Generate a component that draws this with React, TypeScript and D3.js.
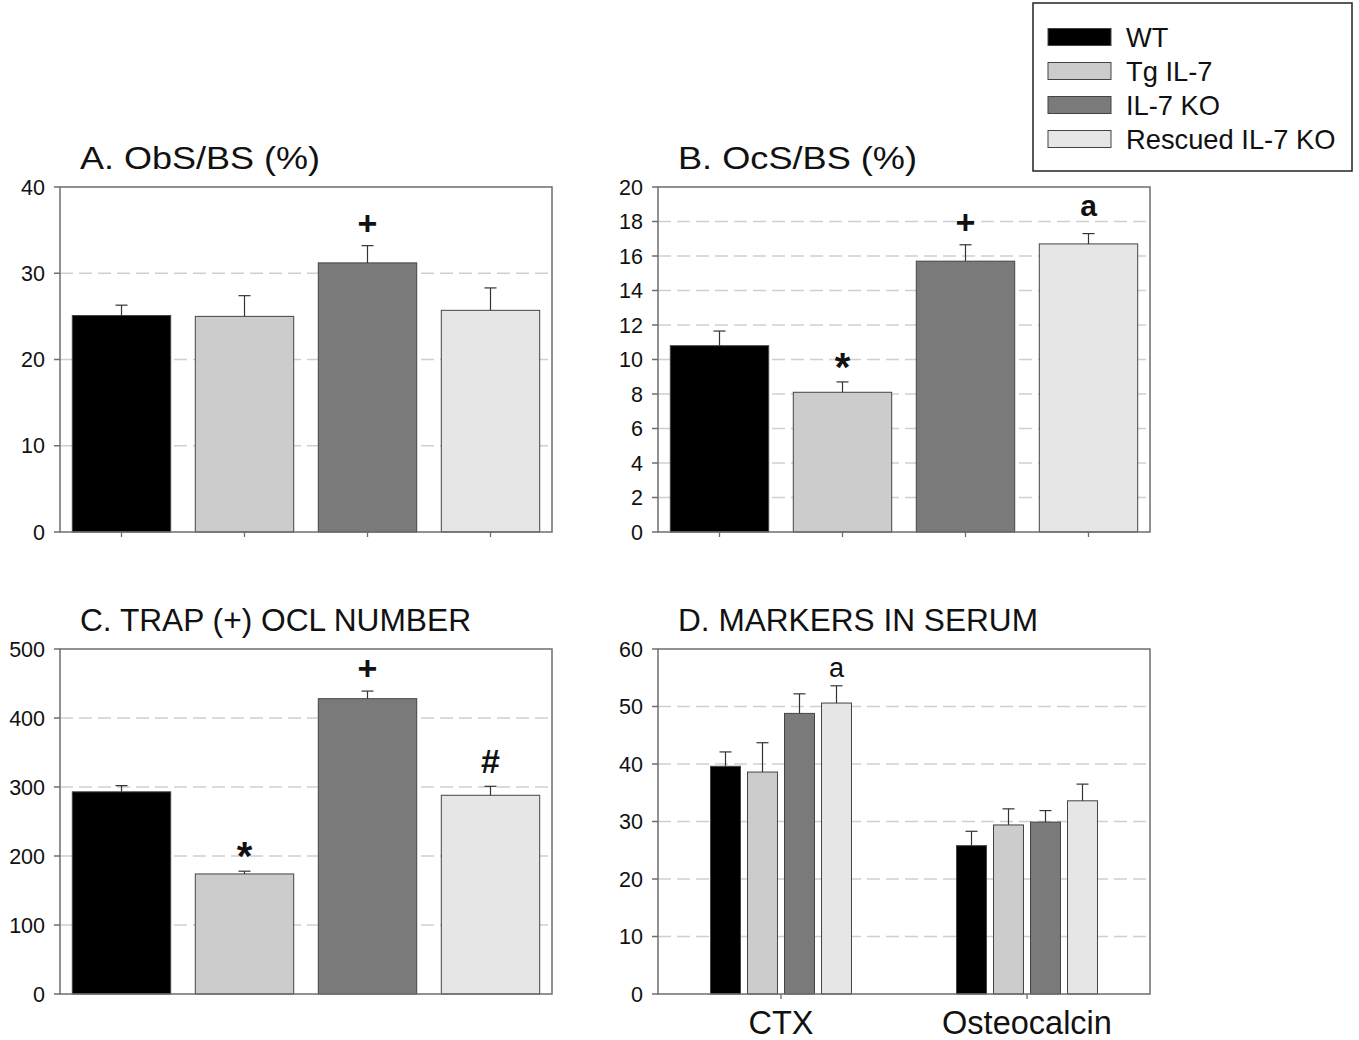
import * as d3 from "d3";

const series = ["WT", "Tg IL-7", "IL-7 KO", "Rescued IL-7 KO"];
const fills = ["#000000", "#cccccc", "#7a7a7a", "#e6e6e6"];

// A. ObS/BS (%)
const obsMean = [25.1, 25.0, 31.2, 25.7];
const obsErr = [1.2, 2.4, 2.0, 2.6];
const obsMarks = ["", "", "+", ""];

// B. OcS/BS (%)
const ocsMean = [10.8, 8.1, 15.7, 16.7];
const ocsErr = [0.85, 0.6, 0.95, 0.6];
const ocsMarks = ["", "*", "+", "a"];

// C. TRAP (+) OCL number
const trapMean = [293, 174, 428, 288];
const trapErr = [9, 4, 11, 13];
const trapMarks = ["", "*", "+", "#"];

// D. markers in serum
const serumGroups = ["CTX", "Osteocalcin"];
const ctxMean = [39.6, 38.6, 48.8, 50.6];
const ctxErr = [2.5, 5.1, 3.4, 3.0];
const ctxMarks = ["", "", "", "a"];
const ocMean = [25.8, 29.4, 29.9, 33.6];
const ocErr = [2.5, 2.8, 2.0, 2.9];
const ocMarks = ["", "", "", ""];

const FONT = "'Liberation Sans', Arial, Helvetica, sans-serif";
const W = 492;
const H = 345;

type Group = { label: string; mean: number[]; err: number[]; marks: string[] };

// gap between error-bar cap and the glyph baseline
function markGap(m: string, bold: boolean) {
  if (!bold) return 9;
  if (m === "*") return 1;
  if (m === "#") return 13;
  if (m === "a") return 18;
  return 11;
}

function markSize(m: string, bold: boolean) {
  if (!bold) return 27;
  if (m === "*") return 40;
  if (m === "a") return 30;
  return 34;
}

function Panel({
  left,
  top,
  title,
  titleWidth,
  yMax,
  yStep,
  groups,
  xTicks,
  boldMarks = true,
}: {
  left: number;
  top: number;
  title: string;
  titleWidth: number;
  yMax: number;
  yStep: number;
  groups: Group[];
  xTicks: boolean;
  boldMarks?: boolean;
}) {
  const y = d3.scaleLinear().domain([0, yMax]).range([top + H, top]);
  const ticks = d3.range(0, yMax + yStep / 2, yStep);
  const grouped = groups.length > 1;

  const x0 = d3
    .scaleBand<string>()
    .domain(groups.map((g) => g.label))
    .range([left, left + W])
    .padding(0);

  const x1 = grouped
    ? d3.scaleBand<string>().domain(series).range([0, 148]).paddingInner(0.19).paddingOuter(0.095)
    : d3.scaleBand<string>().domain(series).range([0, W]).paddingInner(0.2).paddingOuter(0.1);

  const groupStart = (g: Group) =>
    grouped ? (x0(g.label) as number) + x0.bandwidth() / 2 - 74 : left;

  const bw = x1.bandwidth();

  return (
    <g>
      <text
        x={left + 20}
        y={top - 18}
        fontSize={32}
        fontFamily={FONT}
        fill="#111"
        textLength={titleWidth}
        lengthAdjust="spacingAndGlyphs"
      >
        {title}
      </text>

      {/* gridlines */}
      {ticks
        .filter((t) => t > 0 && t < yMax)
        .map((t) => (
          <line
            key={"g" + t}
            x1={left}
            x2={left + W}
            y1={y(t)}
            y2={y(t)}
            stroke="#cfcfcf"
            strokeWidth={1.3}
            strokeDasharray="13 6"
          />
        ))}

      {/* bars */}
      {groups.map((g) =>
        series.map((s, i) => {
          const bx = groupStart(g) + (x1(s) as number);
          const cx = bx + bw / 2;
          const top0 = y(g.mean[i]);
          const topE = y(g.mean[i] + g.err[i]);
          const m = g.marks[i];
          return (
            <g key={g.label + s}>
              <rect
                x={bx}
                y={top0}
                width={bw}
                height={y(0) - top0}
                fill={fills[i]}
                stroke="#444"
                strokeWidth={1}
              />
              <line x1={cx} x2={cx} y1={top0} y2={topE} stroke="#333" strokeWidth={1.2} />
              <line x1={cx - 6} x2={cx + 6} y1={topE} y2={topE} stroke="#333" strokeWidth={1.2} />
              {m && (
                <text
                  x={cx}
                  y={topE - markGap(m, boldMarks)}
                  textAnchor="middle"
                  fontSize={markSize(m, boldMarks)}
                  fontWeight={boldMarks ? "bold" : "normal"}
                  fontFamily={FONT}
                  fill="#111"
                >
                  {m}
                </text>
              )}
            </g>
          );
        })
      )}

      {/* frame */}
      <rect x={left} y={top} width={W} height={H} fill="none" stroke="#6e6e6e" strokeWidth={1.5} />

      {/* y axis */}
      {ticks.map((t) => (
        <g key={"t" + t}>
          <line x1={left - 6} x2={left} y1={y(t)} y2={y(t)} stroke="#6e6e6e" strokeWidth={1.5} />
          <text
            x={left - 15}
            y={y(t)}
            dy="0.36em"
            textAnchor="end"
            fontSize={21.5}
            fontFamily={FONT}
            fill="#111"
          >
            {t}
          </text>
        </g>
      ))}

      {/* x ticks */}
      {xTicks &&
        !grouped &&
        series.map((s) => {
          const cx = left + (x1(s) as number) + bw / 2;
          return <line key={"x" + s} x1={cx} x2={cx} y1={top + H} y2={top + H + 5} stroke="#6e6e6e" strokeWidth={1.3} />;
        })}
      {grouped &&
        groups.map((g) => {
          const cx = (x0(g.label) as number) + x0.bandwidth() / 2;
          return (
            <g key={"xl" + g.label}>
              <line x1={cx} x2={cx} y1={top + H} y2={top + H + 5} stroke="#6e6e6e" strokeWidth={1.3} />
              <text x={cx} y={top + H + 40} textAnchor="middle" fontSize={32.5} fontFamily={FONT} fill="#111">
                {g.label}
              </text>
            </g>
          );
        })}
    </g>
  );
}

function Legend() {
  const rowY = d3.scalePoint<string>().domain(series).range([37, 139]);
  return (
    <g>
      <rect x={1033} y={3} width={319} height={168} fill="#fff" stroke="#222" strokeWidth={1.5} />
      {series.map((s, i) => (
        <g key={s}>
          <rect
            x={1048}
            y={(rowY(s) as number) - 8.5}
            width={63}
            height={17}
            fill={fills[i]}
            stroke="#444"
            strokeWidth={1}
          />
          <text x={1126} y={rowY(s)} dy="0.36em" fontSize={27.3} fontFamily={FONT} fill="#111">
            {s}
          </text>
        </g>
      ))}
    </g>
  );
}

export default function App() {
  return (
    <svg
      width={1359}
      height={1040}
      style={{ position: "absolute", left: 0, top: 0, background: "#fff" }}
    >
      <rect width={1359} height={1040} fill="#fff" />
      <Panel
        left={60}
        top={187}
        title="A. ObS/BS (%)"
        titleWidth={240}
        yMax={40}
        yStep={10}
        xTicks
        groups={[{ label: "A", mean: obsMean, err: obsErr, marks: obsMarks }]}
      />
      <Panel
        left={658}
        top={187}
        title="B. OcS/BS (%)"
        titleWidth={239}
        yMax={20}
        yStep={2}
        xTicks
        groups={[{ label: "B", mean: ocsMean, err: ocsErr, marks: ocsMarks }]}
      />
      <Panel
        left={60}
        top={649}
        title="C. TRAP (+) OCL NUMBER"
        titleWidth={391}
        yMax={500}
        yStep={100}
        xTicks={false}
        groups={[{ label: "C", mean: trapMean, err: trapErr, marks: trapMarks }]}
      />
      <Panel
        left={658}
        top={649}
        title="D. MARKERS IN SERUM"
        titleWidth={360}
        yMax={60}
        yStep={10}
        xTicks
        boldMarks={false}
        groups={[
          { label: serumGroups[0], mean: ctxMean, err: ctxErr, marks: ctxMarks },
          { label: serumGroups[1], mean: ocMean, err: ocErr, marks: ocMarks },
        ]}
      />
      <Legend />
    </svg>
  );
}
